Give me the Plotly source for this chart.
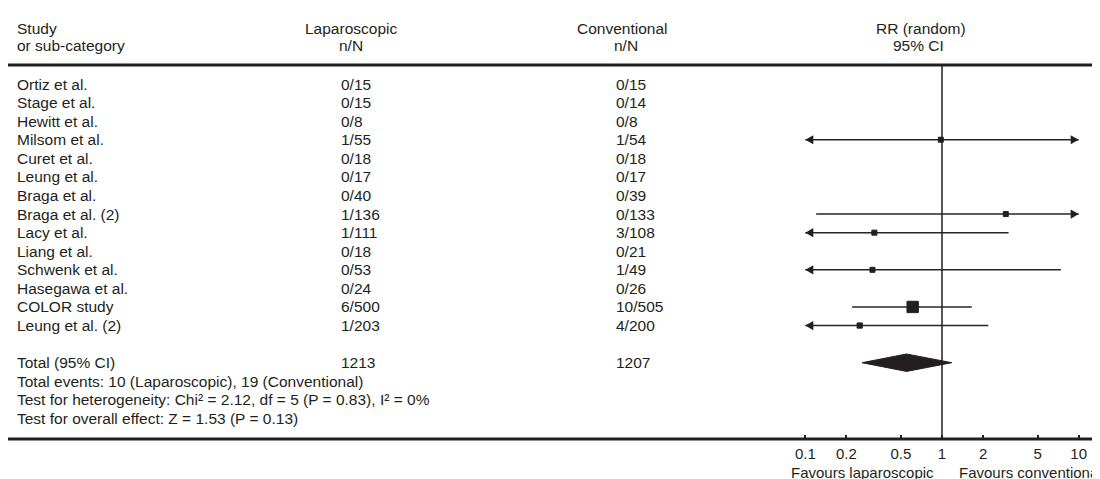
import numpy as np
import plotly.graph_objects as go

# ---------------- data ----------------
studies = ["Ortiz et al.", "Stage et al.", "Hewitt et al.", "Milsom et al.", "Curet et al.",
           "Leung et al.", "Braga et al.", "Braga et al. (2)", "Lacy et al.", "Liang et al.",
           "Schwenk et al.", "Hasegawa et al.", "COLOR study", "Leung et al. (2)"]
lap_n = [0, 0, 0, 1, 0, 0, 0, 1, 1, 0, 0, 0, 6, 1]
lap_N = [15, 15, 8, 55, 18, 17, 40, 136, 111, 18, 53, 24, 500, 203]
conv_n = [0, 0, 0, 1, 0, 0, 0, 0, 3, 0, 1, 0, 10, 4]
conv_N = [15, 14, 8, 54, 18, 17, 39, 133, 108, 21, 49, 26, 505, 200]
rr = [None, None, None, 0.98, None, None, None, 2.93, 0.32, None, 0.31, None, 0.61, 0.25]
ci_low = [None, None, None, 0.06, None, None, None, 0.12, 0.03, None, 0.01, None, 0.22, 0.03]
ci_high = [None, None, None, 15.3, None, None, None, 71.3, 3.07, None, 7.41, None, 1.65, 2.18]
weight_pct = [None, None, None, 7.7, None, None, None, 5.7, 11.4, None, 5.7, None, 57.3, 12.1]
total_rr, total_low, total_high = 0.55, 0.26, 1.18
chi2, df, p_het, i2 = 2.12, 5, 0.83, 0
z_val, p_z = 1.53, 0.13
tick_vals = [0.1, 0.2, 0.5, 1, 2, 5, 10]
tick_text = ["0.1", "0.2", "0.5", "1", "2", "5", "10"]
x_min, x_max = 0.1, 10

# ---------------- layout helpers ----------------
W, H = 1100, 479
TOP, BOT = 57, 431
ROW0, ROWH = 76, 18.58
INK = "#231f20"
FONT = "Liberation Sans, Arial, Helvetica, sans-serif"
FS = 15.5
FS_AX = 15


def px(p):
    return p / W


def py(p):
    return (BOT - p) / (BOT - TOP)


fig = go.Figure()

# CI lines
lx, ly = [], []
for i, r in enumerate(rr):
    if r is None:
        continue
    lx += [max(ci_low[i], x_min), min(ci_high[i], x_max), None]
    ly += [i, i, None]
fig.add_trace(go.Scatter(x=lx, y=ly, mode="lines", line=dict(color="#262626", width=1.5),
                         hoverinfo="skip", showlegend=False))

# boxes (area ~ weight, with a minimum size)
bx, by, bs = [], [], []
for i, r in enumerate(rr):
    if r is None:
        continue
    bx.append(r)
    by.append(i)
    bs.append(max(5.0, 1.5 * np.sqrt(weight_pct[i])))
fig.add_trace(go.Scatter(x=bx, y=by, mode="markers",
                         marker=dict(symbol="square", size=bs, color=INK, opacity=1,
                                     line=dict(width=1, color=INK)),
                         showlegend=False))

# diamond (total)
total_row = len(studies) + 1
dh = 0.47
fig.add_trace(go.Scatter(x=[total_low, total_rr, total_high, total_rr, total_low],
                         y=[total_row, total_row - dh, total_row, total_row + dh, total_row],
                         mode="lines", fill="toself", fillcolor=INK,
                         line=dict(color=INK, width=1), showlegend=False))

shapes = []
# arrow heads for truncated CIs
for i, r in enumerate(rr):
    if r is None:
        continue
    if ci_low[i] < x_min:
        shapes.append(dict(type="path", xref="x", yref="y", xsizemode="pixel", ysizemode="pixel",
                           xanchor=x_min, yanchor=i, path="M0,0 L8,4.6 L8,-4.6 Z",
                           fillcolor=INK, line=dict(width=0)))
    if ci_high[i] > x_max:
        shapes.append(dict(type="path", xref="x", yref="y", xsizemode="pixel", ysizemode="pixel",
                           xanchor=x_max, yanchor=i, path="M0,0 L-8,4.6 L-8,-4.6 Z",
                           fillcolor=INK, line=dict(width=0)))

# rules and line of no effect
shapes.append(dict(type="line", xref="paper", yref="paper", x0=0, x1=px(1095), y0=1, y1=1,
                   line=dict(color=INK, width=3)))
shapes.append(dict(type="line", xref="paper", yref="paper", x0=0, x1=px(1095), y0=0, y1=0,
                   line=dict(color=INK, width=3)))
shapes.append(dict(type="line", xref="x", yref="paper", x0=1, x1=1, y0=0, y1=1,
                   line=dict(color=INK, width=1.5)))

ann = []


def txt(text, x, y, yref="y", xanchor="left", size=FS):
    ann.append(dict(text=text, x=x, y=y, xref="paper", yref=yref, xanchor=xanchor,
                    yanchor="middle", showarrow=False, borderpad=0,
                    font=dict(family=FONT, size=size, color=INK)))


# headers
txt("Study", px(8), py(20), "paper")
txt("or sub-category", px(8), py(37), "paper")
txt("Laparoscopic", px(343), py(20), "paper", "center")
txt("n/N", px(343), py(37), "paper", "center")
txt("Conventional", px(614), py(20), "paper", "center")
txt("n/N", px(618), py(37), "paper", "center")
txt("RR (random)", px(913), py(20), "paper", "center")
txt("95% CI", px(910), py(37), "paper", "center")

# study rows
for i, s in enumerate(studies):
    txt(s, px(8), i)
    txt(f"{lap_n[i]}/{lap_N[i]}", px(332), i)
    txt(f"{conv_n[i]}/{conv_N[i]}", px(607), i)

# totals and footer
txt("Total (95% CI)", px(8), total_row)
txt(str(sum(lap_N)), px(332), total_row)
txt(str(sum(conv_N)), px(607), total_row)
txt(f"Total events: {sum(lap_n)} (Laparoscopic), {sum(conv_n)} (Conventional)", px(8), total_row + 1)
txt(f"Test for heterogeneity: Chi² = {chi2:.2f}, df = {df} (P = {p_het:.2f}), I² = {i2}%",
    px(8), total_row + 2)
txt(f"Test for overall effect: Z = {z_val:.2f} (P = {p_z:.2f})", px(8), total_row + 3)

# favours labels
txt("Favours laparoscopic", px(927), py(465), "paper", "right", FS_AX)
txt("Favours conventional", px(1095), py(465), "paper", "right", FS_AX)

x_lo_px, x_hi_px = 780, 1095
p01, p10 = 797.3, 1070.7
dec = (p10 - p01) / 2
rng = [-1 - (p01 - x_lo_px) / dec, 1 + (x_hi_px - p10) / dec]

fig.update_layout(
    width=W, height=H,
    margin=dict(l=0, r=0, t=TOP, b=H - BOT, pad=0),
    paper_bgcolor="white", plot_bgcolor="white",
    showlegend=False,
    shapes=shapes, annotations=ann,
    xaxis=dict(type="log", domain=[px(x_lo_px), px(x_hi_px)], range=rng,
               tickvals=tick_vals, ticktext=tick_text, ticks="inside", ticklen=4,
               tickwidth=1.5, tickcolor=INK, showgrid=False, zeroline=False, showline=False,
               tickfont=dict(family=FONT, size=FS_AX, color=INK), ticklabelstandoff=4),
    yaxis=dict(range=[(BOT - ROW0) / ROWH, (TOP - ROW0) / ROWH], visible=False,
               showgrid=False, zeroline=False),
)

fig.write_html("out.html")
